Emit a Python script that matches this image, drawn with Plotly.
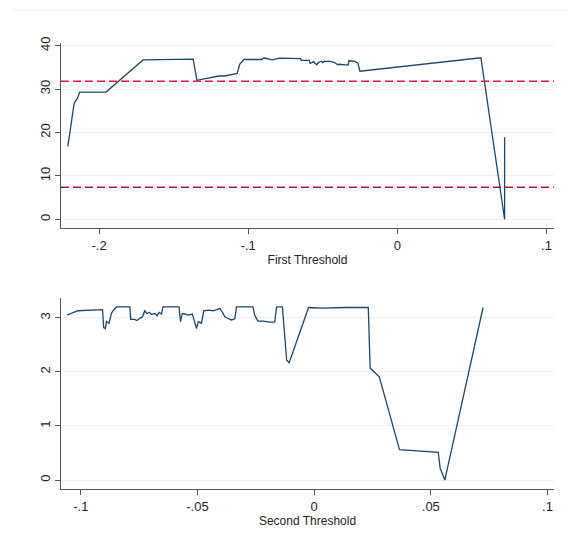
import plotly.graph_objects as go

# ---- Data ----
first_x = [-0.2209, -0.2167, -0.2143, -0.2130, -0.1953, -0.1705, -0.1369, -0.1344,
           -0.1197, -0.1160, -0.1074, -0.1057, -0.1029, -0.0909, -0.0894, -0.0860,
           -0.0840, -0.0790, -0.0740, -0.0650, -0.0644, -0.0590, -0.0585, -0.0560,
           -0.0555, -0.0540, -0.0530, -0.0510, -0.0500, -0.0490, -0.0480, -0.0460,
           -0.0420, -0.0400, -0.0390, -0.0330, -0.0325, -0.0290, -0.0265, -0.0251,
           0.0560, 0.0719, 0.0719]
first_y = [16.8, 26.7, 28.0, 29.3, 29.3, 36.7, 36.9, 32.0,
           33.0, 33.0, 33.6, 35.7, 36.8, 36.8, 37.2, 36.9,
           36.7, 37.1, 37.1, 37.0, 36.6, 36.6, 35.9, 36.3,
           36.0, 35.6, 36.1, 36.4, 36.1, 36.4, 36.3, 36.4,
           36.1, 35.6, 35.7, 35.5, 36.5, 36.4, 36.0, 34.1,
           37.2, 0.0, 18.9]

second_x = [-0.1059, -0.1012, -0.0907, -0.0902, -0.0895, -0.0890, -0.0879, -0.0869,
            -0.0862, -0.0847, -0.0790, -0.0786, -0.0769, -0.0759, -0.0747, -0.0736,
            -0.0726, -0.0716, -0.0707, -0.0697, -0.0683, -0.0673, -0.0664, -0.0654,
            -0.0648, -0.0579, -0.0573, -0.0565, -0.0555, -0.0540, -0.0522, -0.0512,
            -0.0504, -0.0497, -0.0483, -0.0473, -0.0454, -0.0433, -0.0404, -0.0393,
            -0.0383, -0.0376, -0.0354, -0.0340, -0.0333, -0.0262, -0.0255, -0.0241,
            -0.0219, -0.0190, -0.0169, -0.0161, -0.0136, -0.0118, -0.0107, -0.0024,
            0.0043, 0.0137, 0.0232, 0.0240, 0.0279, 0.0366, 0.0532, 0.0540,
            0.0560, 0.0724]
second_y = [3.05, 3.13, 3.15, 2.82, 2.80, 2.93, 2.90, 3.08,
            3.13, 3.20, 3.20, 2.97, 2.97, 2.95, 2.99, 3.02,
            3.13, 3.08, 3.10, 3.06, 3.08, 3.04, 3.10, 3.07,
            3.20, 3.20, 2.93, 3.08, 3.07, 3.05, 3.07, 2.90,
            2.80, 2.93, 2.90, 3.13, 3.14, 3.13, 3.17, 3.10,
            3.02, 3.00, 2.96, 2.98, 3.20, 3.20, 3.05, 2.94,
            2.94, 2.92, 2.92, 3.20, 3.20, 2.22, 2.17, 3.19,
            3.18, 3.19, 3.19, 2.07, 1.91, 0.56, 0.51, 0.22,
            0.00, 3.19]

ref_upper = 31.8
ref_lower = 7.4

first_ticks = [-0.2, -0.1, 0, 0.1]
first_ticklabels = ["-.2", "-.1", "0", ".1"]
first_yticks = [0, 10, 20, 30, 40]
second_ticks = [-0.1, -0.05, 0, 0.05, 0.1]
second_ticklabels = ["-.1", "-.05", "0", ".05", ".1"]
second_yticks = [0, 1, 2, 3]

NAVY = "#1a476f"
GRID = "#eaf2f3"
AXIS = "#555555"
FONT = "Liberation Sans, Arial, sans-serif"

fig = go.Figure()
fig.add_trace(go.Scatter(x=first_x, y=first_y, mode="lines",
                         line=dict(color=NAVY, width=1.3), xaxis="x", yaxis="y",
                         showlegend=False))
fig.add_trace(go.Scatter(x=second_x, y=second_y, mode="lines",
                         line=dict(color=NAVY, width=1.3), xaxis="x2", yaxis="y2",
                         showlegend=False))

common_x = dict(showgrid=False, zeroline=False, showline=True, linecolor=AXIS,
                linewidth=1.2, ticks="outside", ticklen=5, tickcolor=AXIS,
                tickfont=dict(family=FONT, size=13, color="#222"),
                title_font=dict(family=FONT, size=12, color="#222"),
                title_standoff=3, automargin=False)
common_y = dict(showgrid=True, gridcolor=GRID, gridwidth=1, zeroline=False,
                showline=True, linecolor=AXIS, linewidth=1.2, ticks="outside",
                ticklen=5, tickcolor=AXIS, tickangle=-90, automargin=False,
                tickfont=dict(family=FONT, size=13, color="#222"))

PW = 493.5
shapes = [
    dict(type="line", xref="x domain", yref="y", x0=0, x1=1, y0=ref_upper, y1=ref_upper,
         line=dict(color="#ee1440", width=1.5, dash="8px,4px")),
    dict(type="line", xref="x domain", yref="y", x0=0, x1=1, y0=ref_lower, y1=ref_lower,
         line=dict(color="#a8163c", width=1.5, dash="8px,4px")),
    dict(type="line", xref="paper", yref="paper",
         x0=(3 - 53) / PW, x1=1.0 + (566 - 546.5) / PW, y0=1 - 2 / 545, y1=1 - 2 / 545,
         line=dict(color="#f0f0f0", width=1), layer="below"),
    dict(type="line", xref="paper", yref="paper",
         x0=1.0 + (566 - 546.5) / PW, x1=1.0 + (566 - 546.5) / PW, y0=-0.1, y1=1 - 2 / 545,
         line=dict(color="#f0f0f0", width=1), layer="below"),
]

fig.update_layout(
    width=568, height=545,
    margin=dict(l=53, r=21.5, t=0, b=0, autoexpand=False),
    paper_bgcolor="white", plot_bgcolor="white",
    xaxis=dict(domain=[0, 1], range=[-0.2255, 0.105], tickvals=first_ticks,
               ticktext=first_ticklabels, anchor="y",
               title=dict(text="First Threshold"), **common_x),
    yaxis=dict(domain=[0.5963, 0.9358], range=[-2.0, 40.6], tickvals=first_yticks,
               anchor="x", **common_y),
    xaxis2=dict(domain=[0, 1], range=[-0.1085, 0.1028], tickvals=second_ticks,
                ticktext=second_ticklabels, anchor="y2",
                title=dict(text="Second Threshold"), **common_x),
    yaxis2=dict(domain=[0.1174, 0.4673], range=[-0.166, 3.36], tickvals=second_yticks,
                anchor="x2", **common_y),
    shapes=shapes,
)

fig.write_html("out.html")
